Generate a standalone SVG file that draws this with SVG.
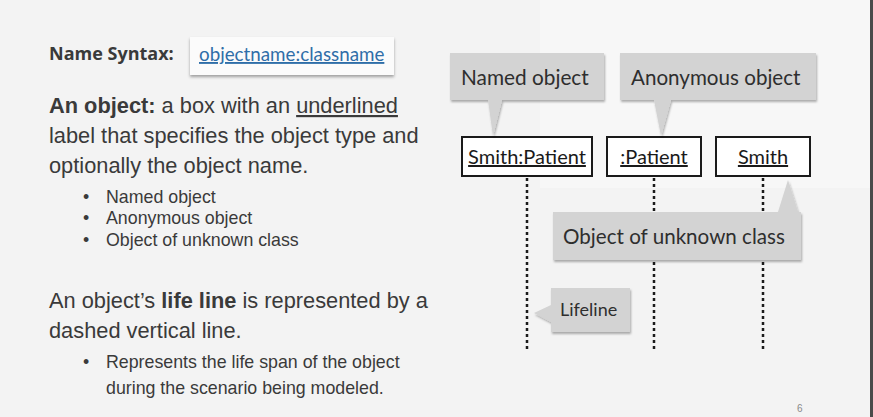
<svg xmlns="http://www.w3.org/2000/svg" width="873" height="417" viewBox="0 0 873 417">
  <defs>
    <filter id="shadow" x="-10%" y="-10%" width="130%" height="140%">
      <feDropShadow dx="1" dy="2" stdDeviation="1.2" flood-color="#000" flood-opacity="0.3"/>
    </filter>
    <filter id="boxshadow" x="-10%" y="-20%" width="120%" height="160%">
      <feDropShadow dx="0" dy="2" stdDeviation="1.5" flood-color="#000" flood-opacity="0.35"/>
    </filter>
    <style>
      .body { font-family: "Liberation Sans", Arial, sans-serif; fill: #3a3a3a; }
      .big { font-size: 21.8px; }
      .small { font-size: 17.8px; }
      .gill { font-family: Lato, "Open Sans", sans-serif; fill: #2e2e2e; }
      .callout { fill: #d3d3d3; filter: url(#shadow); }
      .obj { fill: #ffffff; stroke: #1a1a1a; stroke-width: 2; }
      .objtext { font-family: Lato, "Open Sans", sans-serif; font-size: 20px; fill: #1a1a1a; text-decoration: underline; }
      .life { stroke: #1a1a1a; stroke-width: 2.5; stroke-dasharray: 3 3; fill: none; }
    </style>
  </defs>

  <rect x="0" y="0" width="873" height="417" fill="#f3f3f3"/>
  <rect x="540" y="0" width="330" height="188" fill="#f7f7f7"/>
  <rect x="870" y="0" width="3" height="417" fill="#4a4a4a"/>

  <!-- Left text -->
  <g id="name-syntax">
    <text x="49" y="60" font-family="'Open Sans', 'Noto Sans', sans-serif" font-weight="bold" font-size="18" fill="#3a3a3a">Name Syntax:</text>
    <rect x="190" y="37" width="204" height="38" fill="#fbfbfb" filter="url(#boxshadow)"/>
    <text x="199" y="61" font-family="Lato, 'Open Sans', sans-serif" font-size="18.8" fill="#2f6ea8" text-decoration="underline">objectname:classname</text>
  </g>

  <g id="object-desc" class="body big">
    <text x="49" y="113"><tspan font-weight="bold">An object:</tspan> a box with an <tspan text-decoration="underline">underlined</tspan></text>
    <text x="49" y="143">label that specifies the object type and</text>
    <text x="49" y="173">optionally the object name.</text>
  </g>
  <g id="object-bullets" class="body small">
    <text x="83" y="203">•</text><text x="106" y="203">Named object</text>
    <text x="83" y="224">•</text><text x="106" y="224">Anonymous object</text>
    <text x="83" y="246">•</text><text x="106" y="246">Object of unknown class</text>
  </g>
  <g id="lifeline-desc" class="body big">
    <text x="49" y="308">An object’s <tspan font-weight="bold">life line</tspan> is represented by a</text>
    <text x="49" y="338">dashed vertical line.</text>
  </g>
  <g id="lifeline-bullets" class="body small">
    <text x="83" y="368">•</text><text x="106" y="368">Represents the life span of the object</text>
    <text x="106" y="394">during the scenario being modeled.</text>
  </g>

  <!-- Connectors: lifelines -->
  <g id="connectors">
    <line class="life" x1="527" y1="178" x2="527" y2="349"/>
    <line class="life" x1="654" y1="178" x2="654" y2="349"/>
    <line class="life" x1="763" y1="178" x2="763" y2="349"/>
  </g>

  <!-- Objects -->
  <g id="obj-smith-patient">
    <rect class="obj" x="462" y="137" width="130" height="39"/>
    <text class="objtext" x="527" y="164" text-anchor="middle">Smith:Patient</text>
  </g>
  <g id="obj-patient">
    <rect class="obj" x="607" y="137" width="94" height="39"/>
    <text class="objtext" x="654" y="164" text-anchor="middle">:Patient</text>
  </g>
  <g id="obj-smith">
    <rect class="obj" x="716" y="137" width="94" height="39"/>
    <text class="objtext" x="763" y="164" text-anchor="middle">Smith</text>
  </g>

  <!-- Callouts -->
  <g id="callout-named">
    <path class="callout" d="M450,53 H604 V100 H502 L493,136 L488,100 H450 Z"/>
    <text class="gill" x="461" y="85" font-size="20.8">Named object</text>
  </g>
  <g id="callout-anonymous">
    <path class="callout" d="M620,53 H816 V100 H671 L661,136 L654,100 H620 Z"/>
    <text class="gill" x="631" y="85" font-size="20.6">Anonymous object</text>
  </g>
  <g id="callout-unknown">
    <path class="callout" d="M553,212 H778 L788,180 L798,212 H801 V260 H553 Z"/>
    <text class="gill" x="563" y="244" font-size="20.6">Object of unknown class</text>
  </g>
  <g id="callout-lifeline">
    <path class="callout" d="M551,288 H630 V332 H551 V322 L534,313 L551,305 Z"/>
    <text class="gill" x="560" y="316" font-size="18">Lifeline</text>
  </g>

  <text x="797" y="412" font-family="'Liberation Sans', Arial, sans-serif" font-size="10" fill="#8a8a8a">6</text>
</svg>
